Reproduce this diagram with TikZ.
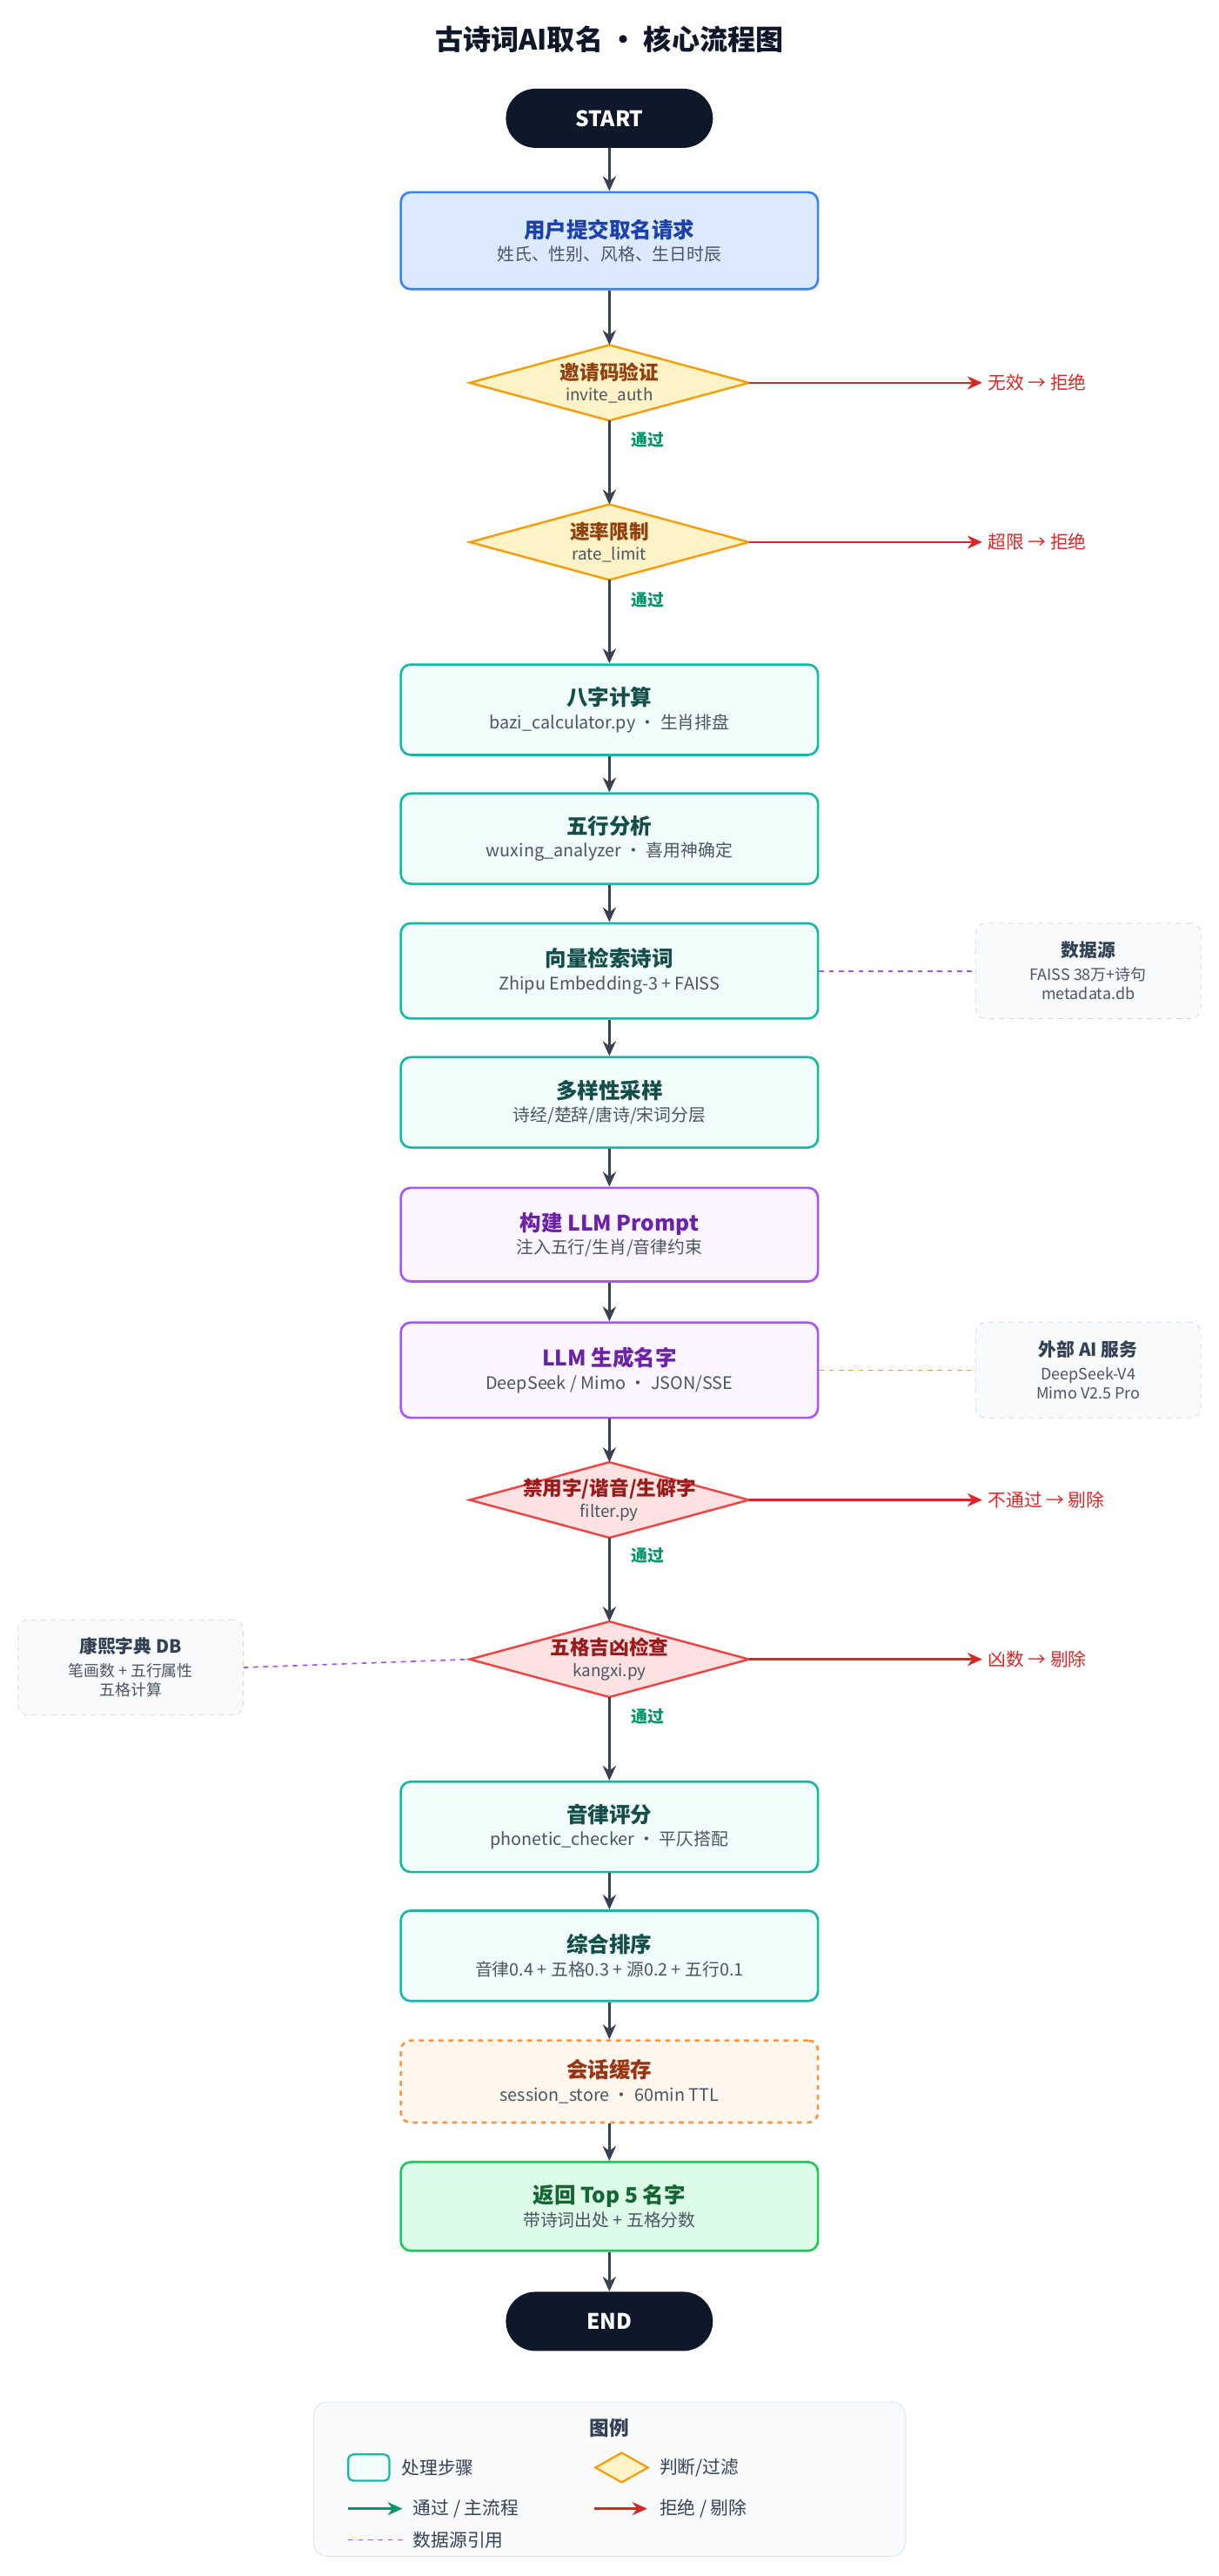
\documentclass[tikz,border=0pt]{standalone}
\usepackage{fontspec}
\setmainfont{Noto Sans CJK SC}
\usetikzlibrary{arrows.meta,shapes.geometric}
\definecolor{dark}{HTML}{0F172A}
\definecolor{arr}{HTML}{374151}
\definecolor{sub}{HTML}{4B5563}
\definecolor{tealF}{HTML}{F0FDFA}\definecolor{tealB}{HTML}{14B8A6}\definecolor{tealT}{HTML}{134E4A}
\definecolor{blueF}{HTML}{DBEAFE}\definecolor{blueB}{HTML}{3B82F6}\definecolor{blueT}{HTML}{1E40AF}
\definecolor{purF}{HTML}{FAF5FF}\definecolor{purB}{HTML}{A855F7}\definecolor{purT}{HTML}{6B21A8}
\definecolor{orF}{HTML}{FFF7ED}\definecolor{orB}{HTML}{FB923C}\definecolor{orT}{HTML}{9A3412}
\definecolor{grF}{HTML}{DCFCE7}\definecolor{grB}{HTML}{22C55E}\definecolor{grT}{HTML}{166534}
\definecolor{yF}{HTML}{FEF3C7}\definecolor{yB}{HTML}{F59E0B}\definecolor{yT}{HTML}{92400E}
\definecolor{pF}{HTML}{FEE2E2}\definecolor{pB}{HTML}{EF4444}\definecolor{pT}{HTML}{991B1B}
\definecolor{red}{HTML}{DC2626}\definecolor{okg}{HTML}{059669}
\definecolor{sideB}{HTML}{CBD5E1}\definecolor{sideF}{HTML}{F8FAFC}\definecolor{sideT}{HTML}{334155}
\newcommand\twol[3]{{\color{#1}\fontsize{13}{16}\selectfont\bfseries #2}\\[2pt]{\color{sub}\fontsize{10.5}{13}\selectfont #3}}
\newcommand\mydec[8]{%
 \coordinate (#1) at (#2);
 \draw[#4,fill=#3,line width=1.3pt] ([xshift=-85pt]#1) coordinate (#1w) -- ([yshift=23pt]#1) coordinate (#1n) -- ([xshift=85pt]#1) coordinate (#1e) -- ([yshift=-23pt]#1) coordinate (#1s) -- cycle;
 \node[align=center,inner sep=0pt] at (#1) {{\color{#5}\fontsize{12}{14}\selectfont\bfseries #6}\\[1pt]{\color{sub}\fontsize{10}{12}\selectfont #7}};
 \node[red,anchor=west,font=\fontsize{11}{13}\selectfont] (#1r) at ([xshift=227pt]#1) {#8};
 \draw[red,line width=1.3pt,-{Stealth[length=9pt,width=8pt]}] (#1e) -- (#1r.west);
}
\tikzset{x=1pt,y=-1pt,
 box/.style={rounded corners=6pt,line width=1.4pt,minimum width=254pt,align=center,inner sep=0pt},
 teal/.style={box,draw=tealB,fill=tealF},
 pill/.style={rounded corners=18pt,fill=dark,text=white,minimum width=126pt,minimum height=36pt,font=\fontsize{13}{15}\selectfont\bfseries},
 flow/.style={arr,line width=1.6pt,-{Stealth[length=9pt,width=8pt]}},
 side/.style={rounded corners=6pt,draw=sideB,fill=sideF,dashed,minimum width=137pt,minimum height=58pt,align=center},
 ok/.style={okg,font=\fontsize{10}{12}\selectfont\bfseries,anchor=west}
}
\begin{document}
\begin{tikzpicture}
\useasboundingbox[fill=white] (0,0) rectangle (742,1568);
\node[font=\fontsize{17}{20}\selectfont\bfseries,text=dark] (title) at (371,24) {古诗词AI取名 · 核心流程图};
\node[pill] (start) at (371,72) {START};
\node[box,draw=blueB,fill=blueF,minimum height=59pt] (b1) at (371,146.5) {\twol{blueT}{用户提交取名请求}{姓氏、性别、风格、生日时辰}};
\mydec{d1}{371,233}{yF}{yB}{yT}{邀请码验证}{invite\_auth}{无效 → 拒绝}
\mydec{d2}{371,330}{yF}{yB}{yT}{速率限制}{rate\_limit}{超限 → 拒绝}
\node[teal,minimum height=55pt] (b2) at (371,432) {\twol{tealT}{八字计算}{bazi\_calculator.py · 生肖排盘}};
\node[teal,minimum height=55pt] (b3) at (371,510.5) {\twol{tealT}{五行分析}{wuxing\_analyzer · 喜用神确定}};
\node[teal,minimum height=58pt] (b4) at (371,591) {\twol{tealT}{向量检索诗词}{Zhipu Embedding-3 + FAISS}};
\node[teal,minimum height=55pt] (b5) at (371,671) {\twol{tealT}{多样性采样}{诗经/楚辞/唐诗/宋词分层}};
\node[box,draw=purB,fill=purF,minimum height=57pt] (b6) at (371,751.5) {\twol{purT}{构建 LLM Prompt}{注入五行/生肖/音律约束}};
\node[box,draw=purB,fill=purF,minimum height=58pt] (b7) at (371,834) {\twol{purT}{LLM 生成名字}{DeepSeek / Mimo · JSON/SSE}};
\mydec{d3}{371,913}{pF}{pB}{pT}{禁用字/谐音/生僻字}{filter.py}{不通过 → 剔除}
\mydec{d4}{371,1010}{pF}{pB}{pT}{五格吉凶检查}{kangxi.py}{凶数 → 剔除}
\node[teal,minimum height=55pt] (b8) at (371,1112) {\twol{tealT}{音律评分}{phonetic\_checker · 平仄搭配}};
\node[teal,minimum height=55pt] (b9) at (371,1190.5) {\twol{tealT}{综合排序}{音律0.4 + 五格0.3 + 源0.2 + 五行0.1}};
\node[box,draw=orB,fill=orF,dashed,minimum height=50pt] (b10) at (371,1267) {\twol{orT}{会话缓存}{session\_store · 60min TTL}};
\node[box,draw=grB,fill=grF,minimum height=54pt] (b11) at (371,1343) {\twol{grT}{返回 Top 5 名字}{带诗词出处 + 五格分数}};
\node[pill] (end) at (371,1413) {END};
% side boxes
\node[side] (s1) at (662.5,591) {{\color{sideT}\fontsize{11}{14}\selectfont\bfseries 数据源}\\[2pt]{\color{sub}\fontsize{9.5}{11}\selectfont FAISS 38万+诗句}\\{\color{sub}\fontsize{9.5}{11}\selectfont metadata.db}};
\node[side] (s2) at (662.5,834) {{\color{sideT}\fontsize{11}{14}\selectfont\bfseries 外部 AI 服务}\\[2pt]{\color{sub}\fontsize{9.5}{11}\selectfont DeepSeek-V4}\\{\color{sub}\fontsize{9.5}{11}\selectfont Mimo V2.5 Pro}};
\node[side] (s3) at (79.5,1015) {{\color{sideT}\fontsize{11}{14}\selectfont\bfseries 康熙字典 DB}\\[2pt]{\color{sub}\fontsize{9.5}{11}\selectfont 笔画数 + 五行属性}\\{\color{sub}\fontsize{9.5}{11}\selectfont 五格计算}};
\draw[purB,dashed,line width=0.9pt] (b4.east) -- (s1.west);
\draw[orB,dashed,line width=0.9pt] (b7.east) -- (s2.west);
\draw[purB,dashed,line width=0.9pt] (s3.east) -- (d4w);
% main flow
\draw[flow] (start) -- (b1);
\draw[flow] (b1) -- (d1n);
\draw[flow] (d1s) -- (d2n);
\draw[flow] (d2s) -- (b2);
\draw[flow] (b2) -- (b3);
\draw[flow] (b3) -- (b4);
\draw[flow] (b4) -- (b5);
\draw[flow] (b5) -- (b6);
\draw[flow] (b6) -- (b7);
\draw[flow] (b7) -- (d3n);
\draw[flow] (d3s) -- (d4n);
\draw[flow] (d4s) -- (b8);
\draw[flow] (b8) -- (b9);
\draw[flow] (b9) -- (b10);
\draw[flow] (b10) -- (b11);
\draw[flow] (b11) -- (end);
\node[ok] (p1) at (381,268) {通过};
\node[ok] (p2) at (381,365) {通过};
\node[ok] (p3) at (381,947) {通过};
\node[ok] (p4) at (381,1045) {通过};
% legend
\node[rounded corners=8pt,draw=sideB!70,fill=sideF,minimum width=360pt,minimum height=94pt] (leg) at (371,1509) {};
\node[font=\fontsize{12}{14}\selectfont\bfseries,text=sideT] (legt) at (371,1478) {图例};
\node[rounded corners=3pt,draw=tealB,fill=tealF,line width=1.2pt,minimum width=25pt,minimum height=16pt,inner sep=0pt] (l1) at (224.5,1502) {};
\node[anchor=west,font=\fontsize{11}{13}\selectfont,text=sideT] (l1t) at (241,1502) {处理步骤};
\coordinate (l2) at (378.5,1502);
\draw[yB,fill=yF,line width=1.2pt] ([xshift=-16pt]l2) -- ([yshift=-9pt]l2) -- ([xshift=16pt]l2) -- ([yshift=9pt]l2) -- cycle;
\node[anchor=west,font=\fontsize{11}{13}\selectfont,text=sideT] (l2t) at (398,1502) {判断/过滤};
\coordinate (l3a) at (212,1527); \coordinate (l3b) at (245,1527);
\draw[okg,line width=1.6pt,-{Stealth[length=9pt,width=8pt]}] (l3a) -- (l3b);
\node[anchor=west,font=\fontsize{11}{13}\selectfont,text=sideT] (l3t) at (248,1527) {通过 / 主流程};
\coordinate (l4a) at (362,1527); \coordinate (l4b) at (394,1527);
\draw[red,line width=1.6pt,-{Stealth[length=9pt,width=8pt]}] (l4a) -- (l4b);
\node[anchor=west,font=\fontsize{11}{13}\selectfont,text=sideT] (l4t) at (398,1527) {拒绝 / 剔除};
\coordinate (l5a) at (212,1546); \coordinate (l5b) at (245,1546);
\draw[purB,dashed,line width=0.9pt] (l5a) -- (l5b);
\node[anchor=west,font=\fontsize{11}{13}\selectfont,text=sideT] (l5t) at (248,1546) {数据源引用};
\end{tikzpicture}
\end{document}
